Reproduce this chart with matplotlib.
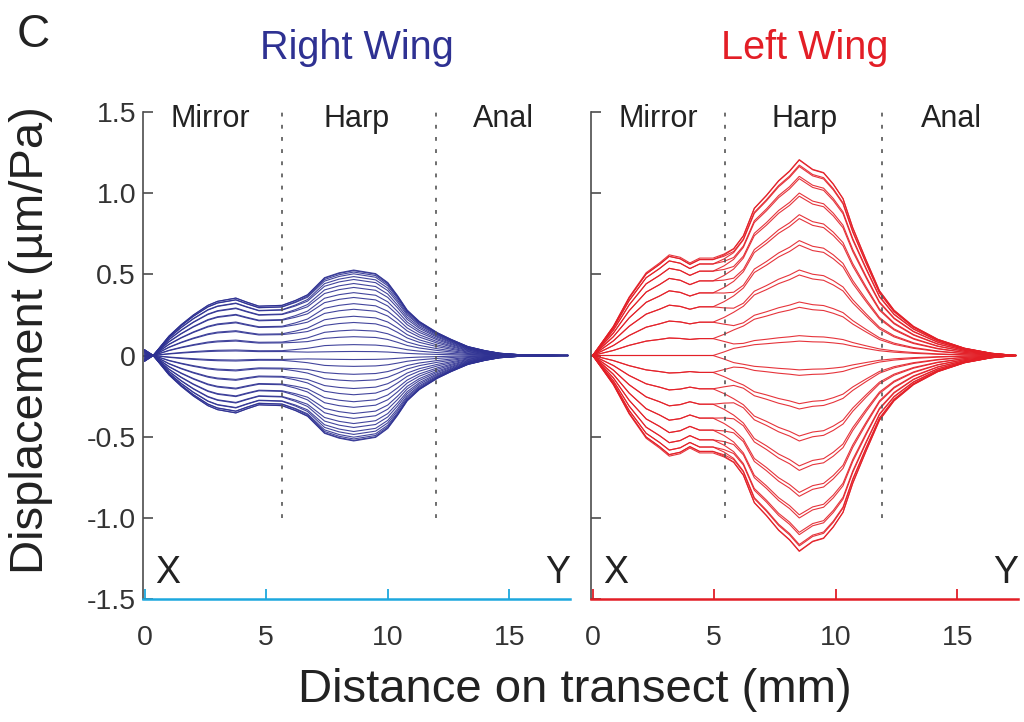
import numpy as np
import matplotlib
matplotlib.use("Agg")
import matplotlib.pyplot as plt

plt.rcParams['font.family'] = ['Liberation Sans', 'DejaVu Sans']

# ---------------- data ----------------
# Deflection-shape snapshots: 36 phases of one cycle
phases_deg = [5, 15, 25, 35, 45, 55, 65, 75, 85, 95, 105, 115,
              125, 135, 145, 155, 165, 175, 185, 195, 205, 215, 225, 235,
              245, 255, 265, 275, 285, 295, 305, 315, 325, 335, 345, 355]

# Right wing: position on transect (mm), displacement amplitude (um/Pa), local phase (deg)
right_x = [0.0, 0.35, 1.0, 1.5, 2.0, 2.6, 3.0, 3.75, 4.2, 4.7, 5.65, 6.2, 6.7,
           7.4, 8.0, 8.6, 9.5, 10.0, 10.4, 10.8, 11.3, 12.05, 12.6, 13.3,
           14.0, 14.6, 15.5, 17.4]
right_amp = [-0.035, 0.0, 0.12, 0.19, 0.25, 0.31, 0.335, 0.355, 0.33, 0.305, 0.31,
             0.34, 0.375, 0.48, 0.51, 0.527, 0.505, 0.45, 0.37, 0.28, 0.21, 0.14,
             0.10, 0.055, 0.03, 0.014, 0.004, 0.0]
right_phase = [0.5, 0.5, 0.5, 0.5, 0.5, 0.5, 0.5, 0.5, 0.5, 0.5, 0.5, 1.2, 1.8,
               2.3, 2.3, 2.3, 2.3, 2.3, 2.3, 2.3, 2.3, 2.3, 2.3, 2.3,
               2.3, 2.3, 2.3, 2.3]

# Left wing
left_x = [0.0, 0.85, 1.5, 2.2, 2.75, 3.15, 3.6, 4.0, 4.4, 4.95, 5.4, 5.8, 6.2,
          6.65, 7.15, 7.65, 8.1, 8.5, 9.05, 9.5, 9.9, 10.3, 10.7, 11.25, 11.8,
          12.4, 13.2, 14.2, 15.3, 16.4, 17.4]
left_amp = [0.0, 0.18, 0.36, 0.51, 0.57, 0.62, 0.605, 0.57, 0.60, 0.60, 0.625,
            0.66, 0.74, 0.91, 0.99, 1.08, 1.14, 1.21, 1.15, 1.13, 1.06, 0.97,
            0.79, 0.59, 0.40, 0.28, 0.18, 0.10, 0.045, 0.014, 0.0]
left_phase = [5.0, 5.0, 5.0, 5.0, 5.0, 5.0, 5.0, 5.0, 5.0, 5.0, 3.0, 1.2, 0.8,
              0.8, 0.8, 0.8, 0.8, 0.8, 0.8, 0.8, 0.8, 0.8, 0.8, 0.8, 0.8,
              0.8, 0.8, 0.8, 0.8, 0.8, 0.8]

region_names = ["Mirror", "Harp", "Anal"]
region_label_x = [2.7, 8.7, 14.75]
right_boundaries = [5.65, 11.98]
left_boundaries = [5.46, 11.89]

x_ticks = [0, 5, 10, 15]
y_ticks = [-1.5, -1.0, -0.5, 0, 0.5, 1.0, 1.5]
y_tick_labels = ["-1.5", "-1.0", "-0.5", "0", "0.5", "1.0", "1.5"]

# ---------------- styling ----------------
NAVY = "#2E3192"
RED = "#E31E26"
CYAN = "#1DA8DE"
GRAY = "#4d4d4d"
TXT = "#222222"

W, H = 1024, 722
fig = plt.figure(figsize=(W / 100, H / 100), dpi=100)

ax_r = fig.add_axes([143 / W, 1 - 599 / H, 427 / W, 487 / H])
ax_l = fig.add_axes([591 / W, 1 - 599 / H, 427 / W, 487 / H])


def draw_panel(ax, xs, amp, phase, color, spine_color, bounds, show_ylabels):
    xs = np.asarray(xs)
    amp = np.asarray(amp)
    ph = np.radians(np.asarray(phase))
    for p in phases_deg:
        ys = amp * np.cos(np.radians(p) + ph)
        ax.plot(xs, ys, color=color, lw=0.8, alpha=0.9, solid_joinstyle='miter')
    for b in bounds:
        ax.vlines(b, -1.0, 1.5, colors="#555555", lw=1.2,
                  linestyles=(0, (2.3, 5.0)))
    for name, lx in zip(region_names, region_label_x):
        ax.text(lx, 1.41, name, ha='center', va='baseline', fontsize=22, color=TXT)
    ax.text(0.95, -1.40, "X", ha='center', va='baseline', fontsize=27, color=TXT)
    ax.text(17.0, -1.40, "Y", ha='center', va='baseline', fontsize=27, color=TXT)

    ax.set_xlim(-0.07, 17.5)
    ax.set_ylim(-1.5, 1.5)
    for s in ("top", "right"):
        ax.spines[s].set_visible(False)
    ax.spines["left"].set_color(GRAY)
    ax.spines["left"].set_linewidth(1.2)
    ax.spines["bottom"].set_color(spine_color)
    ax.spines["bottom"].set_linewidth(1.8)
    ax.set_xticks(x_ticks)
    ax.set_xticklabels([str(t) for t in x_ticks])
    ax.set_yticks(y_ticks)
    ax.set_yticklabels(y_tick_labels)
    ax.tick_params(axis='x', direction='in', length=7, width=1.3,
                   color=spine_color, labelsize=20.5, labelcolor="#333333", pad=19)
    ax.tick_params(axis='y', direction='in', length=7, width=1.2,
                   color=GRAY, labelsize=20.5, labelcolor="#333333", pad=5,
                   labelleft=show_ylabels)


draw_panel(ax_r, right_x, right_amp, right_phase, NAVY, CYAN, right_boundaries, True)
draw_panel(ax_l, left_x, left_amp, left_phase, RED, RED, left_boundaries, False)

fig.text(357 / W, 1 - 48 / H, "Right Wing", ha='center', va='center',
         fontsize=28.5, color=NAVY)
fig.text(805 / W, 1 - 48 / H, "Left Wing", ha='center', va='center',
         fontsize=28.5, color=RED)
fig.text(33 / W, 1 - 35 / H, "C", ha='center', va='center', fontsize=33, color=TXT)
fig.text(31 / W, 1 - 340 / H, "Displacement (µm/Pa)", ha='center', va='center',
         rotation=90, fontsize=34, color=TXT)
fig.text(575 / W, 1 - 690 / H, "Distance on transect (mm)", ha='center',
         va='center', fontsize=34, color=TXT)

fig.savefig("out.png", dpi=100)
